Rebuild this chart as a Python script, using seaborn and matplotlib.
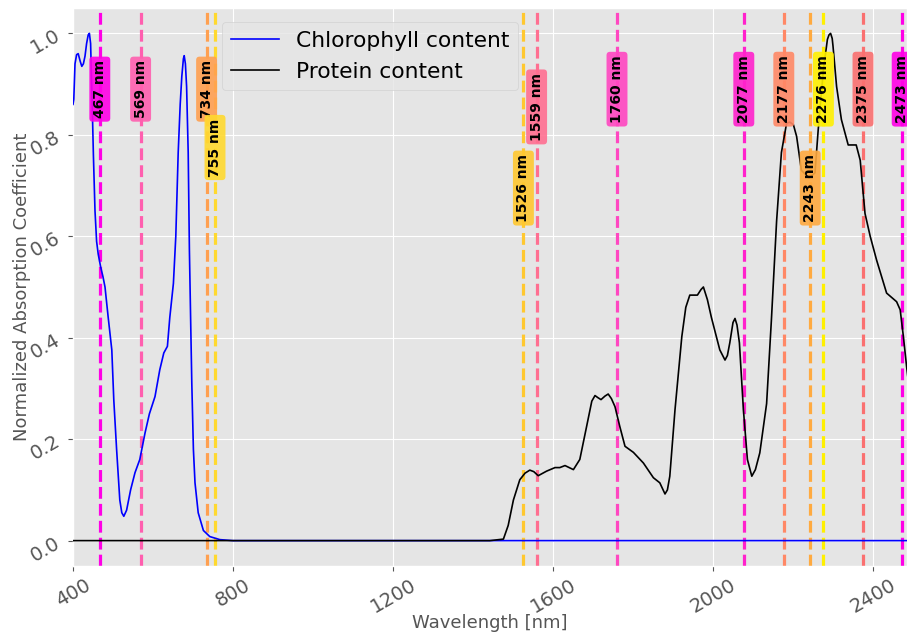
import matplotlib
matplotlib.use("Agg")
import matplotlib.pyplot as plt
import seaborn as sns
import numpy as np
import pandas as pd

# ---------------- data ----------------
chl_wl = [400, 402, 405, 409, 413, 418, 422, 426, 430, 434, 438, 441, 444, 448, 451, 455, 459,
          463, 469, 475, 480, 488, 497, 502, 509, 517, 522, 527, 534, 544, 555, 567, 580, 591,
          605, 617, 627, 636, 642, 651, 657, 663, 668, 672, 676, 678, 681, 684, 688, 691, 694,
          697, 701, 705, 713, 726, 742, 767, 800, 1200, 1600, 2000, 2500]
chl_val = [0.86, 0.87, 0.94, 0.958, 0.96, 0.945, 0.935, 0.94, 0.955, 0.98, 0.997, 1.0, 0.98,
           0.86, 0.76, 0.65, 0.59, 0.565, 0.54, 0.52, 0.50, 0.44, 0.376, 0.277, 0.18, 0.08,
           0.055, 0.048, 0.06, 0.10, 0.134, 0.16, 0.212, 0.25, 0.284, 0.337, 0.37, 0.383,
           0.44, 0.507, 0.6, 0.765, 0.86, 0.915, 0.95, 0.956, 0.94, 0.895, 0.765, 0.573, 0.44,
           0.31, 0.18, 0.114, 0.055, 0.02, 0.008, 0.002, 0.0, 0.0, 0.0, 0.0, 0.0]

prot_wl = [400, 800, 1200, 1442, 1476, 1488, 1501, 1517, 1530, 1542, 1552, 1563, 1584, 1605,
           1617, 1630, 1651, 1667, 1684, 1697, 1705, 1712, 1720, 1730, 1738, 1746, 1755, 1767,
           1780, 1801, 1826, 1851, 1867, 1880, 1886, 1892, 1905, 1922, 1932, 1942, 1961, 1970,
           1976, 1986, 1996, 2017, 2030, 2036, 2042, 2050, 2055, 2060, 2066, 2076, 2086, 2097,
           2106, 2117, 2134, 2146, 2159, 2171, 2184, 2192, 2201, 2209, 2221, 2240, 2255, 2263,
           2276, 2286, 2290, 2294, 2298, 2300, 2309, 2321, 2338, 2358, 2368, 2380, 2393, 2409,
           2434, 2459, 2468, 2476, 2484, 2492]
prot_val = [0.0, 0.0, 0.0, 0.0, 0.003, 0.03, 0.08, 0.12, 0.133, 0.139, 0.136, 0.128, 0.137,
            0.144, 0.144, 0.148, 0.14, 0.16, 0.225, 0.275, 0.286, 0.282, 0.278, 0.285, 0.289,
            0.28, 0.264, 0.225, 0.186, 0.174, 0.153, 0.124, 0.114, 0.092, 0.1, 0.127, 0.258,
            0.402, 0.46, 0.484, 0.484, 0.495, 0.50, 0.475, 0.44, 0.376, 0.356, 0.365, 0.39,
            0.43, 0.438, 0.425, 0.39, 0.258, 0.16, 0.127, 0.14, 0.173, 0.27, 0.435, 0.63,
            0.765, 0.823, 0.825, 0.82, 0.797, 0.73, 0.715, 0.725, 0.81, 0.928, 0.988, 0.997,
            1.0, 0.99, 0.975, 0.895, 0.83, 0.78, 0.78, 0.75, 0.645, 0.6, 0.553, 0.488, 0.471,
            0.455, 0.402, 0.343, 0.29]

band_wl = [467, 569, 734, 755, 1526, 1559, 1760, 2077, 2177, 2243, 2276, 2375, 2473]
band_lab_y = [0.89, 0.89, 0.89, 0.775, 0.695, 0.855, 0.89, 0.89, 0.89, 0.695, 0.89, 0.89, 0.89]
band_colors = ['#FF00E6', '#FF5FAF', '#FFA050', '#FFD92F', '#FFC830', '#FF6F91', '#FF47C1',
               '#FF22CC', '#FF8866', '#FFAA40', '#FFF000', '#FA7070', '#FF00E6']

x_ticks = [400, 800, 1200, 1600, 2000, 2400]
y_ticks = [0.0, 0.2, 0.4, 0.6, 0.8, 1.0]

# ---------------- plot ----------------
plt.style.use('ggplot')
fig = plt.figure(figsize=(9.07, 6.35), dpi=100)
ax = fig.add_axes([73 / 907, (635 - 566) / 635, (907 - 73) / 907, (566 - 8) / 635])

chl_df = pd.DataFrame({'Wavelength': chl_wl, 'Value': chl_val})
prot_df = pd.DataFrame({'Wavelength': prot_wl, 'Value': prot_val})

sns.lineplot(data=chl_df, x='Wavelength', y='Value', color='blue', linewidth=1.2,
             estimator=None, label='Chlorophyll content', ax=ax, zorder=3)
sns.lineplot(data=prot_df, x='Wavelength', y='Value', color='black', linewidth=1.2,
             estimator=None, label='Protein content', ax=ax, zorder=3)

for wl, ly, c in zip(band_wl, band_lab_y, band_colors):
    ax.axvline(wl, color=c, linestyle='--', linewidth=2.3, zorder=2)
    ax.text(wl, ly, f"{wl} nm", rotation=90, ha='center', va='center', fontsize=10,
            fontweight='bold', color='black', zorder=4,
            bbox=dict(boxstyle='round,pad=0.25', facecolor=c, edgecolor='none', alpha=0.9))

ax.set_xlim(400, 2485)
ax.set_ylim(-0.05, 1.05)
ax.set_xticks(x_ticks)
ax.set_yticks(y_ticks)
ax.tick_params(axis='both', labelsize=14, labelrotation=30)
ax.set_xlabel('Wavelength [nm]', fontsize=13, labelpad=-2)
ax.set_ylabel('Normalized Absorption Coefficient', fontsize=13, labelpad=-3)

leg = ax.legend(loc='upper left', bbox_to_anchor=(0.1787, 0.975), borderaxespad=0,
                fontsize=15.7, handlelength=2.2)
for line in leg.get_lines():
    line.set_linewidth(1.2)

fig.savefig('out.png', dpi=100)
